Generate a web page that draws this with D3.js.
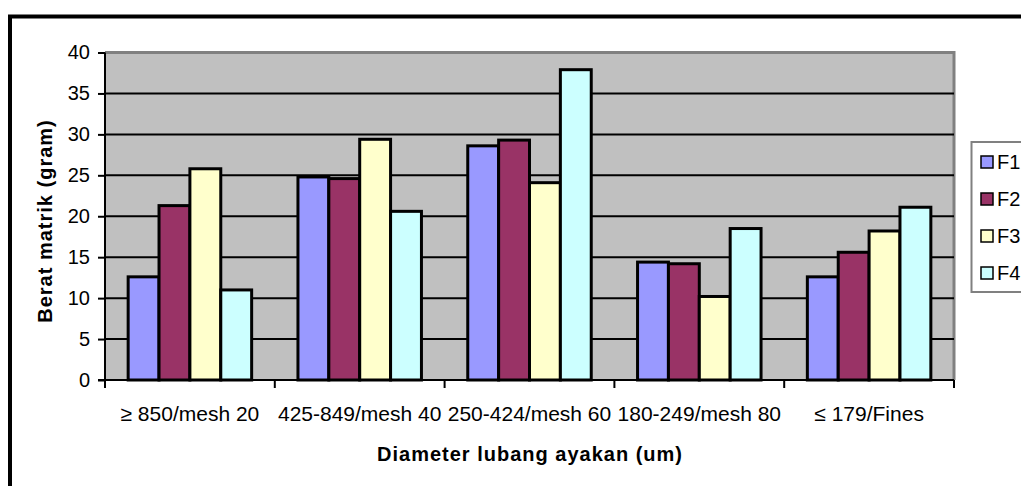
<!DOCTYPE html>
<html>
<head>
<meta charset="utf-8">
<script src="https://cdn.jsdelivr.net/npm/d3@7/dist/d3.min.js"></script>
<style>
  html, body { margin: 0; padding: 0; background: #fff; }
  svg { display: block; }
  text { font-family: Arial, "Liberation Sans", sans-serif; fill: #000; }
</style>
</head>
<body>
<svg id="chart" width="1021" height="486"></svg>
<script>
// Sieve fractions (x categories)
const categories = ["\u2265 850/mesh 20", "425-849/mesh 40", "250-424/mesh 60", "180-249/mesh 80", "\u2264 179/Fines"];
// Formulas
const seriesNames = ["F1", "F2", "F3", "F4"];
const seriesColors = ["#9999FF", "#993366", "#FFFFCC", "#CCFFFF"];
// Matrix weight (gram) per formula, one value per sieve fraction
const F1 = [12.6, 24.8, 28.6, 14.4, 12.6];
const F2 = [21.3, 24.6, 29.3, 14.2, 15.6];
const F3 = [25.8, 29.4, 24.1, 10.2, 18.2];
const F4 = [11.0, 20.6, 37.9, 18.5, 21.1];
const yTicks = [0, 5, 10, 15, 20, 25, 30, 35, 40];

const seriesValues = [F1, F2, F3, F4];

const svg = d3.select("#chart");
const plot = { left: 105, right: 954, top: 52.5, bottom: 380 };

// Outer chart frame (runs past the right and bottom edges)
svg.append("rect")
  .attr("x", 10).attr("y", 16.5)
  .attr("width", 1100).attr("height", 600)
  .attr("fill", "#fff").attr("stroke", "#000").attr("stroke-width", 4);

const x0 = d3.scaleBand().domain(categories).range([plot.left, plot.right]).paddingInner(0).paddingOuter(0);
// 150% gap width: the four bars fill 4 / 5.5 of each category slot
const gapRatio = 1.5;
const x1 = d3.scaleBand().domain(seriesNames)
  .range([0, x0.bandwidth() * 4 / (4 + gapRatio)]);
const groupOffset = x0.bandwidth() * (gapRatio / 2) / (4 + gapRatio);
const y = d3.scaleLinear().domain([0, 40]).range([plot.bottom, plot.top]);

// Plot area background
svg.append("rect")
  .attr("x", plot.left).attr("y", plot.top)
  .attr("width", plot.right - plot.left).attr("height", plot.bottom - plot.top)
  .attr("fill", "#C0C0C0");

// Plot area border on top and right
svg.append("path")
  .attr("d", `M${plot.left},${plot.top} H${plot.right} V${plot.bottom}`)
  .attr("fill", "none").attr("stroke", "#808080").attr("stroke-width", 3);

// Horizontal gridlines
svg.append("g").selectAll("line")
  .data(yTicks.filter(t => t > 0 && t < 40))
  .join("line")
  .attr("x1", plot.left).attr("x2", plot.right)
  .attr("y1", d => y(d)).attr("y2", d => y(d))
  .attr("stroke", "#000").attr("stroke-width", 2);

// Bars
const groups = svg.append("g").selectAll("g")
  .data(categories)
  .join("g")
  .attr("transform", d => `translate(${x0(d) + groupOffset},0)`);

groups.selectAll("rect")
  .data((c, i) => seriesNames.map((s, j) => ({ s, j, v: seriesValues[j][i] })))
  .join("rect")
  .attr("x", d => x1(d.s))
  .attr("y", d => y(d.v))
  .attr("width", x1.bandwidth())
  .attr("height", d => y(0) - y(d.v))
  .attr("fill", d => seriesColors[d.j])
  .attr("stroke", "#000").attr("stroke-width", 3);

// Y axis
const yAxis = svg.append("g")
  .attr("transform", `translate(${plot.left},0)`)
  .call(d3.axisLeft(y).tickValues(yTicks).tickSize(7).tickPadding(8).tickFormat(d3.format("d")));
yAxis.select(".domain").attr("stroke", "#000").attr("stroke-width", 2).attr("d", `M0,${plot.top}V${plot.bottom}`);
yAxis.selectAll(".tick line").attr("stroke", "#000").attr("stroke-width", 2);
yAxis.selectAll(".tick text").attr("font-size", 20).attr("font-family", "Arial, 'Liberation Sans', sans-serif");

// X axis
const tickPositions = d3.range(categories.length + 1).map(i => plot.left + i * x0.bandwidth());
const xAxisG = svg.append("g");
xAxisG.append("line")
  .attr("x1", plot.left - 7).attr("x2", plot.right)
  .attr("y1", plot.bottom).attr("y2", plot.bottom)
  .attr("stroke", "#000").attr("stroke-width", 2);
xAxisG.selectAll("line.tk")
  .data(tickPositions)
  .join("line").attr("class", "tk")
  .attr("x1", d => d).attr("x2", d => d)
  .attr("y1", plot.bottom).attr("y2", plot.bottom + 8)
  .attr("stroke", "#000").attr("stroke-width", 2);
xAxisG.selectAll("text")
  .data(categories)
  .join("text")
  .attr("x", d => x0(d) + x0.bandwidth() / 2)
  .attr("y", 421)
  .attr("text-anchor", "middle")
  .attr("font-size", 21)
  .text(d => d);

// Axis titles
svg.append("text")
  .attr("x", 530).attr("y", 461)
  .attr("text-anchor", "middle")
  .attr("font-size", 20).attr("font-weight", "bold")
  .attr("letter-spacing", 1)
  .text("Diameter lubang ayakan (um)");

svg.append("text")
  .attr("transform", "translate(52,221) rotate(-90)")
  .attr("text-anchor", "middle")
  .attr("font-size", 20).attr("font-weight", "bold")
  .attr("letter-spacing", 1)
  .text("Berat matrik (gram)");

// Legend
const legend = svg.append("g");
legend.append("rect")
  .attr("x", 971.5).attr("y", 142)
  .attr("width", 120).attr("height", 150)
  .attr("fill", "#fff").attr("stroke", "#808080").attr("stroke-width", 2);
const items = legend.selectAll("g.item")
  .data(seriesNames)
  .join("g").attr("class", "item")
  .attr("transform", (d, i) => `translate(0,${162 + i * 37})`);
items.append("rect")
  .attr("x", 981).attr("y", -6)
  .attr("width", 12).attr("height", 12)
  .attr("fill", (d, i) => seriesColors[i])
  .attr("stroke", "#000").attr("stroke-width", 1.5);
items.append("text")
  .attr("x", 997).attr("y", 7)
  .attr("font-size", 20)
  .text(d => d);
</script>
</body>
</html>
